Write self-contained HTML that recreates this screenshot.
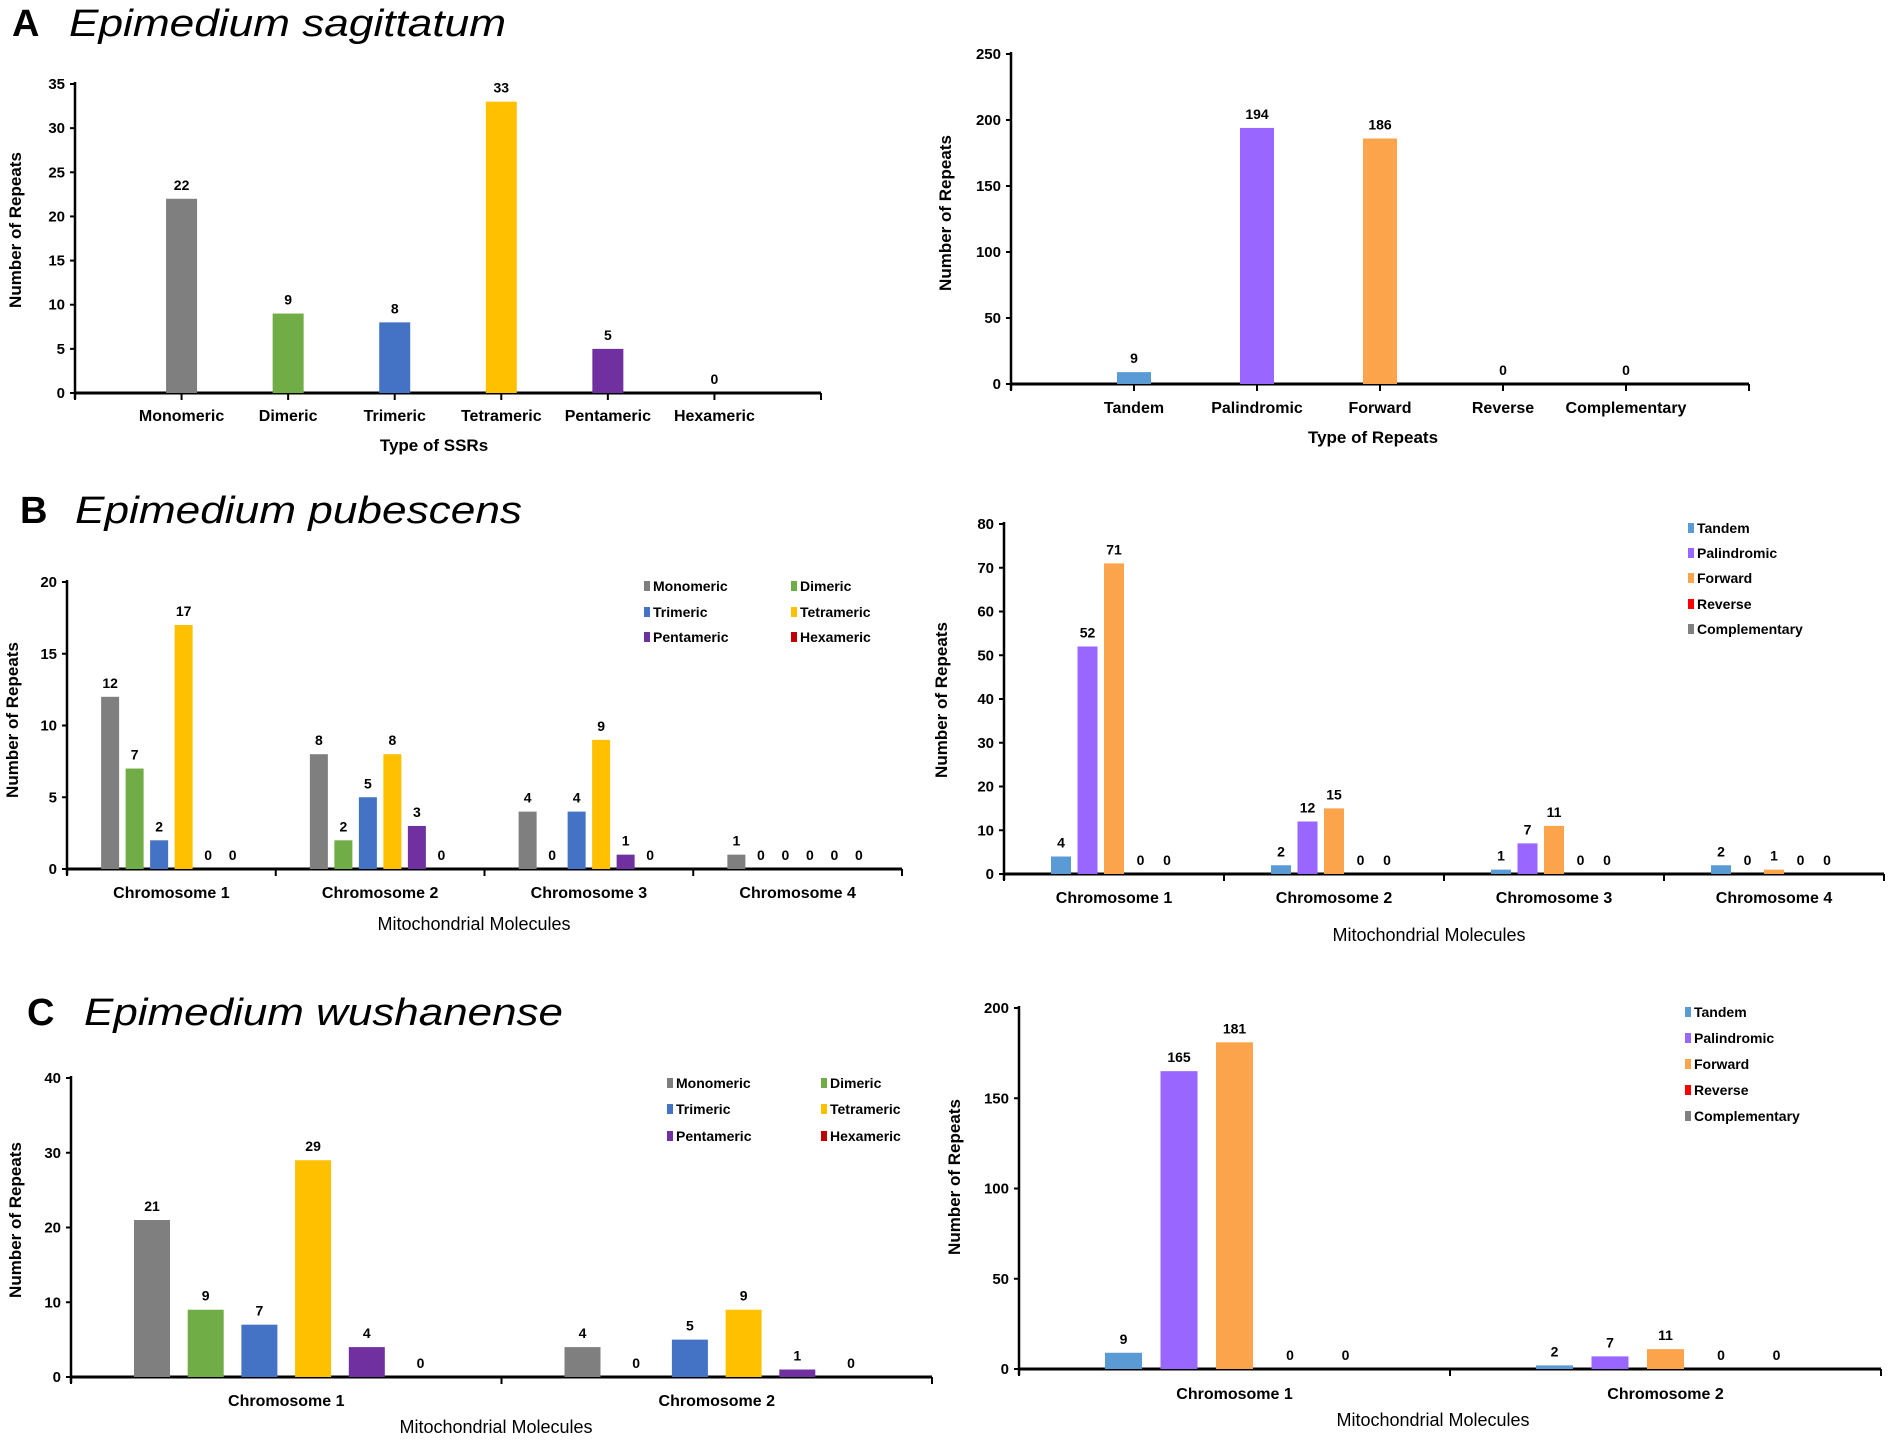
<!DOCTYPE html>
<html><head><meta charset="utf-8"><style>
html,body{margin:0;padding:0;background:#fff;}
svg{display:block;font-family:"Liberation Sans",Arial,sans-serif;}
</style></head><body>
<svg id="fig" width="1890" height="1440" viewBox="0 0 1890 1440" xmlns="http://www.w3.org/2000/svg">
<text x="12" y="36" font-size="38" font-weight="bold">A</text>
<text x="69" y="36" font-size="38" font-style="italic" textLength="437" lengthAdjust="spacingAndGlyphs">Epimedium sagittatum</text>
<text x="20" y="523" font-size="38" font-weight="bold">B</text>
<text x="75" y="523" font-size="38" font-style="italic" textLength="447" lengthAdjust="spacingAndGlyphs">Epimedium pubescens</text>
<text x="27" y="1025" font-size="38" font-weight="bold">C</text>
<text x="84" y="1025" font-size="38" font-style="italic" textLength="479" lengthAdjust="spacingAndGlyphs">Epimedium wushanense</text>
</svg>
<script>
// ---- data ----
const ssrTypes = ["Monomeric","Dimeric","Trimeric","Tetrameric","Pentameric","Hexameric"];
const repeatTypes = ["Tandem","Palindromic","Forward","Reverse","Complementary"];
const ssrColors = ["#7f7f7f","#70ad47","#4472c4","#ffc000","#7030a0","#c00000"];
const repColors = ["#5b9bd5","#9966ff","#fca44c","#ff0000","#808080"];

const aSsrValues = [22,9,8,33,5,0];
const aSsrTicks = [0,5,10,15,20,25,30,35];
const aRepValues = [9,194,186,0,0];
const aRepTicks = [0,50,100,150,200,250];

const bGroups = ["Chromosome 1","Chromosome 2","Chromosome 3","Chromosome 4"];
const bMonomeric = [12,8,4,1];
const bDimeric = [7,2,0,0];
const bTrimeric = [2,5,4,0];
const bTetrameric = [17,8,9,0];
const bPentameric = [0,3,1,0];
const bHexameric = [0,0,0,0];
const bSsrTicks = [0,5,10,15,20];
const bTandem = [4,2,1,2];
const bPalindromic = [52,12,7,0];
const bForward = [71,15,11,1];
const bReverse = [0,0,0,0];
const bComplementary = [0,0,0,0];
const bRepTicks = [0,10,20,30,40,50,60,70,80];

const cGroups = ["Chromosome 1","Chromosome 2"];
const cMonomeric = [21,4];
const cDimeric = [9,0];
const cTrimeric = [7,5];
const cTetrameric = [29,9];
const cPentameric = [4,1];
const cHexameric = [0,0];
const cSsrTicks = [0,10,20,30,40];
const cTandem = [9,2];
const cPalindromic = [165,7];
const cForward = [181,11];
const cReverse = [0,0];
const cComplementary = [0,0];
const cRepTicks = [0,50,100,150,200];

// ---- drawing ----
const svg = document.getElementById('fig');
const NS = "http://www.w3.org/2000/svg";
function el(tag, attrs, parent){
  const e = document.createElementNS(NS, tag);
  for (const k in attrs) e.setAttribute(k, attrs[k]);
  (parent||svg).appendChild(e);
  return e;
}
function txt(s, attrs, parent){ const t = el('text', attrs, parent); t.textContent = s; return t; }

function axes(g, cfg){
  const yS = v => cfg.zero - (v / cfg.ticks[cfg.ticks.length-1]) * (cfg.zero - cfg.top);
  const ax = el('line', {x1:cfg.x0, y1:cfg.top-2, x2:cfg.x0, y2:cfg.zero+6, stroke:'#000','stroke-width':2.5}, g);
  
  
  const bx = el('line', {x1:cfg.x0, y1:cfg.zero, x2:cfg.x1, y2:cfg.zero, stroke:'#000','stroke-width':3}, g);
  
  
  cfg.ticks.forEach(v=>{
    const y = yS(v);
    el('line',{x1:cfg.x0-5,y1:y,x2:cfg.x0,y2:y,stroke:'#000','stroke-width':2},g);
    const t = txt(String(v), {x:cfg.x0-10, y:y+5, 'font-size':15,'font-weight':'bold','text-anchor':'end'}, g);
    
    
  });
  const n = cfg.nTicks;
  for (let k=0;k<=n;k++){
    const x = cfg.x0 + (cfg.x1-cfg.x0)*k/n;
    el('line',{x1:x,y1:cfg.zero,x2:x,y2:cfg.zero+7,stroke:'#000','stroke-width':2},g);
  }
  const yt = txt('Number of Repeats', {x:0,y:0,'font-size':17,'font-weight':'bold','text-anchor':'middle',
    transform:`translate(${cfg.ytX},${cfg.ytY}) rotate(-90)`}, g);
  
  
  const xt = txt(cfg.xTitle, {x:cfg.xtX, y:cfg.xtY, 'font-size':cfg.xtBold?17:18, 'font-weight':cfg.xtBold?'bold':'normal','text-anchor':'middle'}, g);
  
  
  return yS;
}
function bar(g, cx, w, v, yS, zero, color, name){
  const y = yS(v);
  if (v > 0){
    const r = el('rect',{x:cx-w/2,y:y,width:w,height:zero-y,fill:color},g);
    
    
  }
  const t = txt(String(v), {x:cx, y:y-9, 'font-size':14,'font-weight':'bold','text-anchor':'middle'}, g);
  
  
}
function simpleChart(name, cfg, cats, vals, colors){
  const g = el('g',{});
  
  
  const yS = axes(g, cfg);
  const step = (cfg.x1-cfg.x0)/cfg.nTicks;
  cats.forEach((c,i)=>{
    const cx = cfg.x0 + step*(i+1);
    bar(g, cx, cfg.bw, vals[i], yS, cfg.zero, colors[i], 'bar-'+c.toLowerCase());
    const t = txt(c, {x:cx, y:cfg.labY, 'font-size':16,'font-weight':'bold','text-anchor':'middle'}, g);
    
    
  });
}
function groupChart(name, cfg, groups, series, seriesNames, colors){
  const g = el('g',{});
  
  
  const yS = axes(g, cfg);
  const gw = (cfg.x1-cfg.x0)/groups.length;
  const ns = series.length;
  groups.forEach((gr,gi)=>{
    const gc = cfg.x0 + gw*(gi+0.5);
    series.forEach((s,si)=>{
      const cx = gc + (si-(ns-1)/2)*cfg.sp;
      bar(g, cx, cfg.bw, s[gi], yS, cfg.zero, colors[si], 'bar-'+seriesNames[si].toLowerCase()+'-'+(gi+1));
    });
    const t = txt(gr, {x:gc, y:cfg.labY, 'font-size':16,'font-weight':'bold','text-anchor':'middle'}, g);
    
    
  });
  // legend
  seriesNames.forEach((s,i)=>{
    const col = cfg.legCols.length>1 ? i%2 : 0;
    const row = cfg.legCols.length>1 ? Math.floor(i/2) : i;
    const lx = cfg.legCols[col], ly = cfg.legRows[row];
    const lg = el('g',{},g);
    
    
    el('rect',{x:lx,y:ly-5,width:6,height:10,fill:colors[i]},lg);
    txt(s,{x:lx+9,y:ly+5,'font-size':14,'font-weight':'bold'},lg);
  });
}

simpleChart('ssr-type-chart-a', {x0:75,x1:821,zero:393,top:84,ticks:aSsrTicks,nTicks:7,bw:31,labY:421,
  ytX:21,ytY:230,xTitle:'Type of SSRs',xtX:434,xtY:451,xtBold:true}, ssrTypes, aSsrValues, ssrColors);
simpleChart('repeat-type-chart-a', {x0:1011,x1:1749,zero:384,top:54,ticks:aRepTicks,nTicks:6,bw:34,labY:413,
  ytX:951,ytY:213,xTitle:'Type of Repeats',xtX:1373,xtY:443,xtBold:true}, repeatTypes, aRepValues, repColors);

groupChart('ssr-chart-b', {x0:67,x1:902,zero:869,top:582,ticks:bSsrTicks,nTicks:4,bw:18,sp:24.5,labY:898,
  ytX:18,ytY:720,xTitle:'Mitochondrial Molecules',xtX:474,xtY:930,xtBold:false,
  legCols:[644,791],legRows:[586,612,637]},
  bGroups,[bMonomeric,bDimeric,bTrimeric,bTetrameric,bPentameric,bHexameric],ssrTypes,ssrColors);
groupChart('repeat-chart-b', {x0:1004,x1:1884,zero:874,top:524,ticks:bRepTicks,nTicks:4,bw:20,sp:26.5,labY:903,
  ytX:947,ytY:700,xTitle:'Mitochondrial Molecules',xtX:1429,xtY:941,xtBold:false,
  legCols:[1688],legRows:[528,553,578,604,629]},
  bGroups,[bTandem,bPalindromic,bForward,bReverse,bComplementary],repeatTypes,repColors);

groupChart('ssr-chart-c', {x0:71,x1:932,zero:1377,top:1078,ticks:cSsrTicks,nTicks:2,bw:36,sp:53.7,labY:1406,
  ytX:21,ytY:1220,xTitle:'Mitochondrial Molecules',xtX:496,xtY:1433,xtBold:false,
  legCols:[667,821],legRows:[1083,1109,1136]},
  cGroups,[cMonomeric,cDimeric,cTrimeric,cTetrameric,cPentameric,cHexameric],ssrTypes,ssrColors);
groupChart('repeat-chart-c', {x0:1019,x1:1881,zero:1369,top:1008,ticks:cRepTicks,nTicks:2,bw:37,sp:55.5,labY:1399,
  ytX:960,ytY:1177,xTitle:'Mitochondrial Molecules',xtX:1433,xtY:1426,xtBold:false,
  legCols:[1685],legRows:[1012,1038,1064,1090,1116]},
  cGroups,[cTandem,cPalindromic,cForward,cReverse,cComplementary],repeatTypes,repColors);
</script>
</body></html>
